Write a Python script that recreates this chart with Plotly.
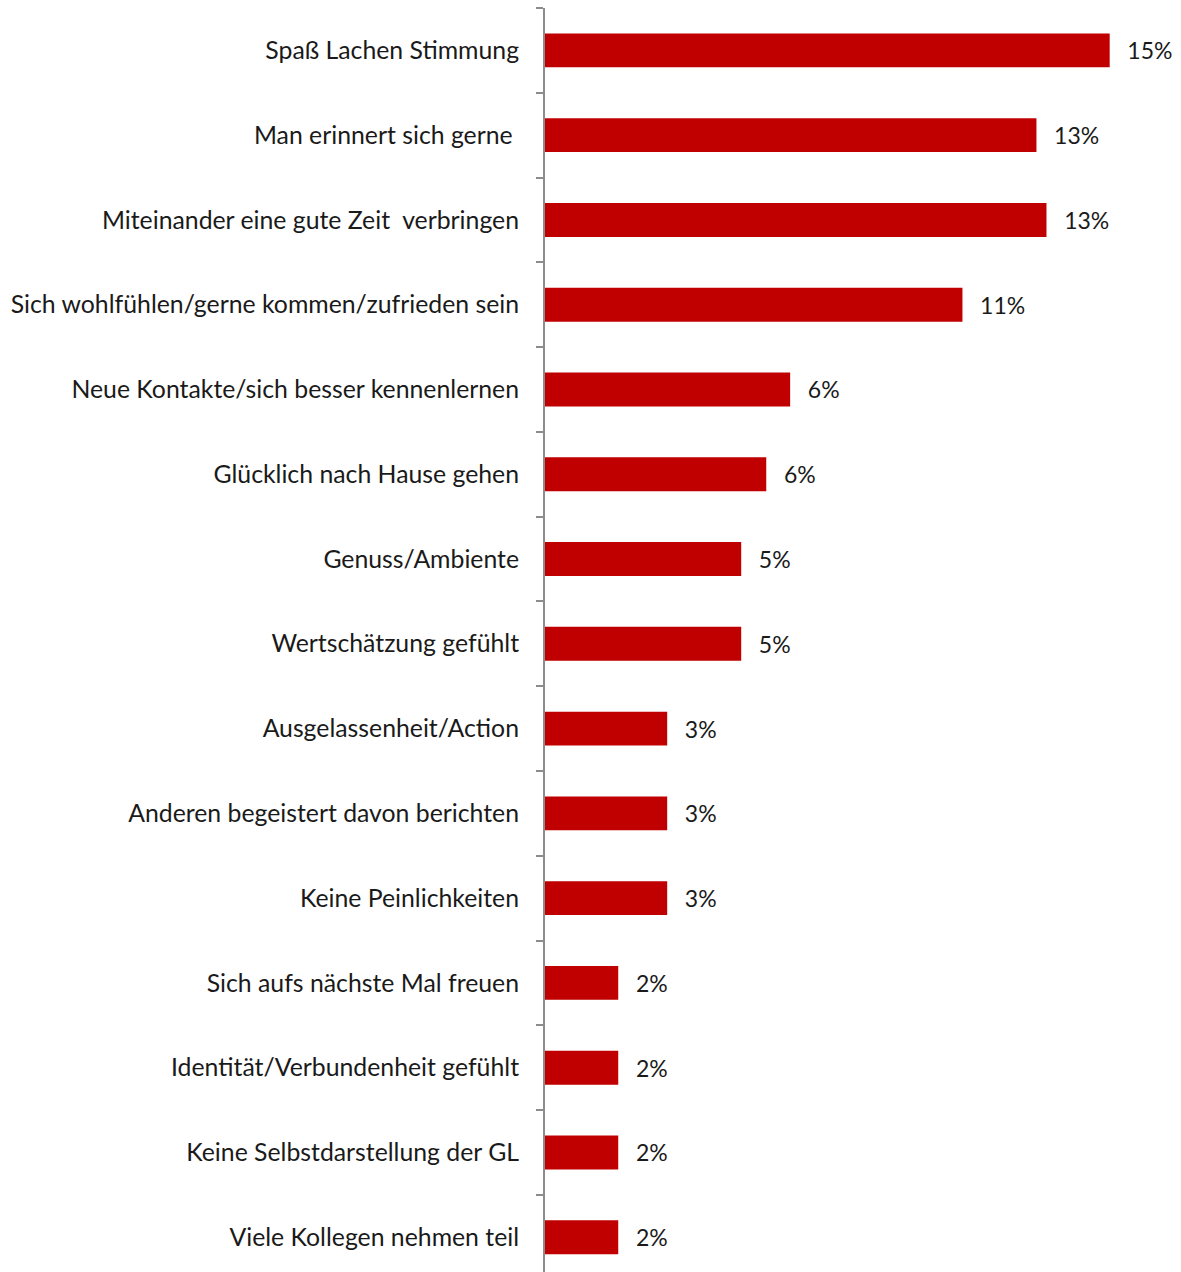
import plotly.graph_objects as go

categories = [
    "Spaß Lachen Stimmung",
    "Man erinnert sich gerne ",
    "Miteinander eine gute Zeit  verbringen",
    "Sich wohlfühlen/gerne kommen/zufrieden sein",
    "Neue Kontakte/sich besser kennenlernen",
    "Glücklich nach Hause gehen",
    "Genuss/Ambiente",
    "Wertschätzung gefühlt",
    "Ausgelassenheit/Action",
    "Anderen begeistert davon berichten",
    "Keine Peinlichkeiten",
    "Sich aufs nächste Mal freuen",
    "Identität/Verbundenheit gefühlt",
    "Keine Selbstdarstellung der GL",
    "Viele Kollegen nehmen teil",
]
values = [14.65, 12.75, 13.01, 10.83, 6.36, 5.74, 5.09, 5.09, 3.17, 3.17, 3.17, 1.9, 1.9, 1.9, 1.9]
labels = ["15%", "13%", "13%", "11%", "6%", "6%", "5%", "5%", "3%", "3%", "3%", "2%", "2%", "2%", "2%"]

FONT = "Lato"

fig = go.Figure(
    go.Bar(
        x=values,
        y=categories,
        orientation="h",
        marker=dict(color="#C00000", line=dict(width=0)),
        width=0.4,
        text=["\u00a0\u00a0\u2009" + t for t in labels],
        textposition="outside",
        textfont=dict(family=FONT, size=23, color="#1a1a1a"),
        constraintext="none",
        cliponaxis=False,
    )
)

fig.update_layout(
    width=1181,
    height=1272,
    margin=dict(l=545, r=0, t=8, b=0),
    paper_bgcolor="white",
    plot_bgcolor="white",
    showlegend=False,
    bargap=0.6,
)
fig.update_xaxes(
    range=[0, 16.5],
    visible=False,
    showgrid=False,
    zeroline=False,
)
fig.update_yaxes(
    type="category",
    categoryorder="array",
    categoryarray=categories,
    range=[14.41, -0.5],
    showline=True,
    linecolor="#8c8c8c",
    linewidth=2,
    ticks="outside",
    tickson="boundaries",
    ticklen=7,
    tickwidth=1.5,
    tickcolor="#8c8c8c",
    showgrid=False,
    zeroline=False,
    tickfont=dict(family=FONT, size=24.8, color="#1a1a1a"),
    ticklabelstandoff=19,
)

fig.write_html("out.html")
